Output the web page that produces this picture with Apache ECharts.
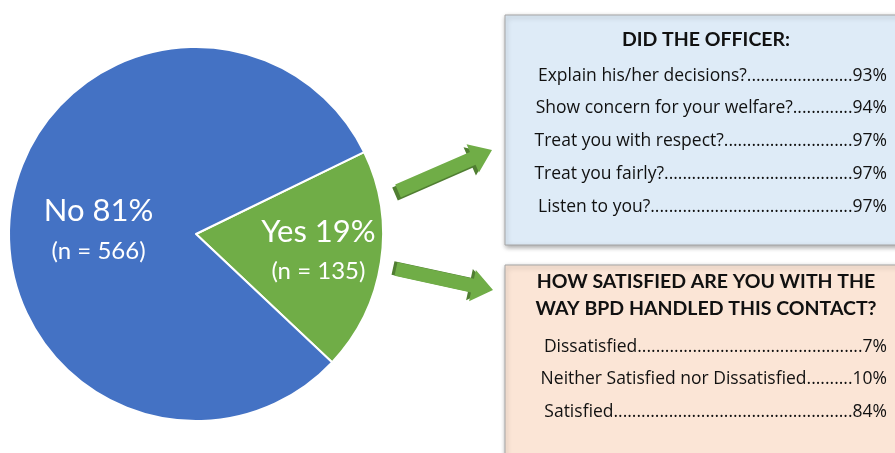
<!DOCTYPE html>
<html><head><meta charset="utf-8">
<script src="https://cdn.jsdelivr.net/npm/echarts@6/dist/echarts.min.js"></script>
<style>html,body{margin:0;padding:0;background:#fff}#c{width:895px;height:453px}</style>
</head><body><div id="c"></div>
<script>
// ---- data ----
const pieCategories = ['Yes', 'No'];
const pieCounts = [135, 566];
const piePercents = [19, 81];
const officerTitle = 'DID THE OFFICER:';
const officerQuestions = ['Explain his/her decisions?', 'Show concern for your welfare?', 'Treat you with respect?', 'Treat you fairly?', 'Listen to you?'];
const officerPercents = [93, 94, 97, 97, 97];
const satisfactionTitle = ['HOW SATISFIED ARE YOU WITH THE', 'WAY BPD HANDLED THIS CONTACT?'];
const satisfactionOptions = ['Dissatisfied', 'Neither Satisfied nor Dissatisfied', 'Satisfied'];
const satisfactionPercents = [7, 10, 84];

// ---- styling ----
const FONT = 'Lato, "Open Sans", sans-serif';
const ROWFONT = '"Open Sans", Lato, sans-serif';
const rowFont = 17.5;
const titleFont = 19.5;
const textColor = '#111';

const cvs = document.createElement('canvas').getContext('2d');
function leader(label, pct, size, width) {
  cvs.font = size + 'px ' + ROWFONT;
  const tail = pct + '%';
  let dots = '';
  while (cvs.measureText(label + dots + '.' + tail).width <= width) dots += '.';
  return label + dots + tail;
}

function arrowPoints(tail, tip, w, h, L) {
  const dx = tip[0] - tail[0], dy = tip[1] - tail[1];
  const len = Math.hypot(dx, dy);
  const u = [dx / len, dy / len], n = [-u[1], u[0]];
  const B = [tip[0] - u[0] * L, tip[1] - u[1] * L];
  const p = (o, k) => [o[0] + n[0] * k, o[1] + n[1] * k];
  return [p(tail, w), p(B, w), p(B, h), tip, p(B, -h), p(B, -w), p(tail, -w)];
}
function shift(pts, ox, oy) { return pts.map(q => [q[0] + ox, q[1] + oy]); }

const graphics = [];
// boxes
const boxShadow = { shadowBlur: 5, shadowColor: 'rgba(0,0,0,0.35)', shadowOffsetX: 1, shadowOffsetY: 2 };
graphics.push({ type: 'rect', shape: { x: 505, y: 15, width: 420, height: 230 }, style: Object.assign({ fill: '#DEEBF7', stroke: '#A6A6A6', lineWidth: 1 }, boxShadow), z: 1 });
graphics.push({ type: 'rect', shape: { x: 505, y: 265, width: 420, height: 230 }, style: Object.assign({ fill: '#FBE5D6', stroke: '#A6A6A6', lineWidth: 1 }, boxShadow), z: 1 });

// arrows
const up = arrowPoints([398, 191], [492, 150], 7, 15.5, 21);
const dn = arrowPoints([396, 269], [493, 290], 7, 16, 21);
graphics.push({ type: 'polygon', shape: { points: shift(up, -3, 3) }, style: { fill: '#507E32' }, z: 2 });
graphics.push({ type: 'polygon', shape: { points: up }, style: { fill: '#70AD47' }, z: 3 });
graphics.push({ type: 'polygon', shape: { points: shift(dn, -3, -1) }, style: { fill: '#507E32' }, z: 2 });
graphics.push({ type: 'polygon', shape: { points: dn }, style: { fill: '#70AD47' }, z: 3 });

// box texts
graphics.push({ type: 'text', x: 706, y: 40, style: { text: officerTitle, font: 'bold ' + titleFont + 'px ' + FONT, fill: textColor, align: 'center', verticalAlign: 'middle' }, z: 5 });
const officerY = [76, 108, 141, 174, 207];
officerQuestions.forEach((q, i) => {
  graphics.push({ type: 'text', x: 887, y: officerY[i], style: { text: leader(q, officerPercents[i], rowFont, 353), font: rowFont + 'px ' + ROWFONT, fill: textColor, align: 'right', verticalAlign: 'middle' }, z: 5 });
});
satisfactionTitle.forEach((t, i) => {
  graphics.push({ type: 'text', x: 706, y: 282 + i * 27, style: { text: t, font: 'bold ' + titleFont + 'px ' + FONT, fill: textColor, align: 'center', verticalAlign: 'middle' }, z: 5 });
});
const satY = [347, 379, 412];
satisfactionOptions.forEach((s, i) => {
  graphics.push({ type: 'text', x: 887, y: satY[i], style: { text: leader(s, satisfactionPercents[i], rowFont, 347), font: rowFont + 'px ' + ROWFONT, fill: textColor, align: 'right', verticalAlign: 'middle' }, z: 5 });
});

const labelShift = { Yes: [27, 3], No: [-2, 12] };

const chart = echarts.init(document.getElementById('c'), null, { renderer: 'canvas' });
chart.setOption({
  animation: false,
  graphic: graphics,
  series: [{
    type: 'pie',
    center: [196, 234],
    radius: 187,
    startAngle: 26,
    clockwise: true,
    silent: true,
    itemStyle: { borderColor: '#fff', borderWidth: 2 },
    color: ['#70AD47', '#4472C4'],
    data: pieCategories.map((c, i) => ({ name: c, value: pieCounts[i] })),
    label: {
      show: true,
      position: 'inside',
      formatter: p => '{a|' + p.name + ' ' + piePercents[p.dataIndex] + '%}\n{b|(n = ' + pieCounts[p.dataIndex] + ')}',
      rich: {
        a: { fontFamily: FONT, fontSize: 31, color: '#fff', lineHeight: 40, align: 'center' },
        b: { fontFamily: FONT, fontSize: 24, color: '#fff', lineHeight: 40, align: 'center' }
      }
    },
    labelLine: { show: false },
    labelLayout: p => ({ dx: labelShift[pieCategories[p.dataIndex]][0], dy: labelShift[pieCategories[p.dataIndex]][1] })
  }]
});
</script></body></html>
